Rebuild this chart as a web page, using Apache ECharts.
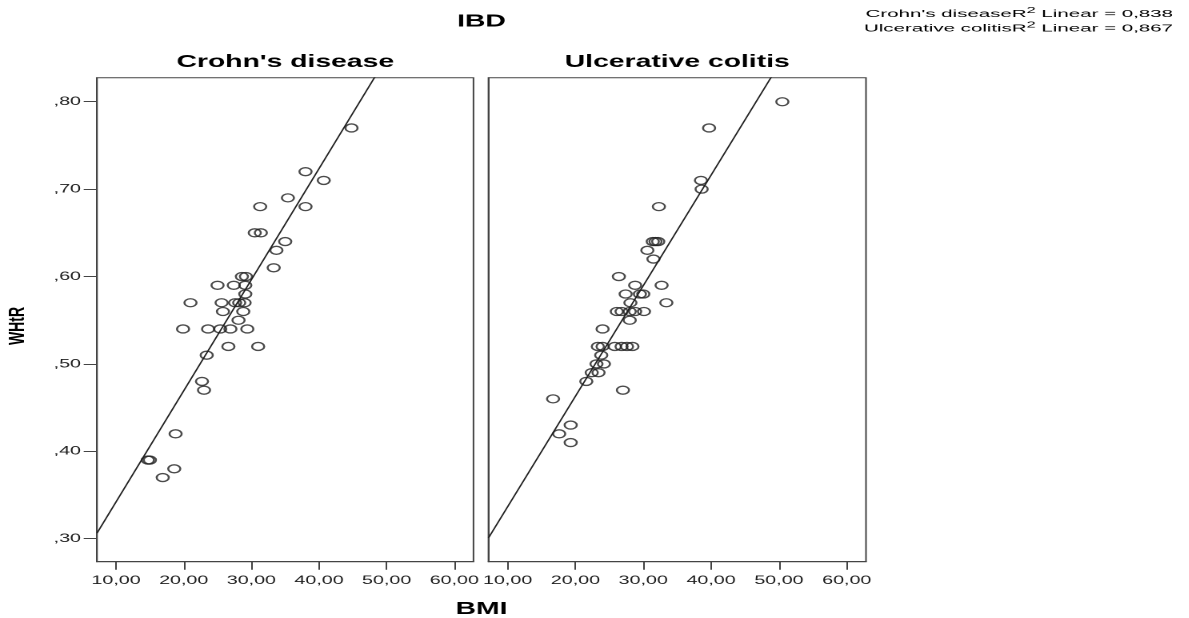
<!DOCTYPE html>
<html>
<head>
<meta charset="utf-8">
<script src="https://cdn.jsdelivr.net/npm/echarts@6/dist/echarts.min.js"></script>
<style>
  html,body{margin:0;padding:0;background:#fff;overflow:hidden;}
  #wrap{position:absolute;left:0;top:0;height:618px;transform-origin:0 0;}
</style>
</head>
<body>
<div id="wrap"></div>
<script>
// ---------------- data ----------------
const panelTitles = ["Crohn's disease", "Ulcerative colitis"];
const r2Values = ["0,838", "0,867"];
const xTicks = [10, 20, 30, 40, 50, 60];
const yTicks = [0.30, 0.40, 0.50, 0.60, 0.70, 0.80];

const cdBMI = [44.8, 38.0, 40.7, 35.4, 31.3, 38.0, 30.5, 31.4, 35.0, 33.7, 33.3,
  28.6, 29.2, 25.0, 27.4, 29.1, 29.1, 21.0, 25.6, 27.6, 28.2, 29.0, 25.8, 28.8, 28.1,
  19.9, 23.6, 25.4, 26.9, 29.4, 26.6, 31.0, 23.4, 22.7, 23.0, 18.8, 14.7, 15.0, 18.6, 16.9];
const cdWHtR = [0.77, 0.72, 0.71, 0.69, 0.68, 0.68, 0.65, 0.65, 0.64, 0.63, 0.61,
  0.60, 0.60, 0.59, 0.59, 0.59, 0.58, 0.57, 0.57, 0.57, 0.57, 0.57, 0.56, 0.56, 0.55,
  0.54, 0.54, 0.54, 0.54, 0.54, 0.52, 0.52, 0.51, 0.48, 0.47, 0.42, 0.39, 0.39, 0.38, 0.37];

const ucBMI = [50.5, 39.7, 38.5, 38.6, 32.3, 31.4, 31.8, 32.2, 30.6, 31.5, 26.4,
  28.8, 32.7, 27.4, 29.5, 30.0, 28.1, 33.4, 26.1, 26.8, 28.0, 28.8, 30.1, 28.0, 24.0,
  23.3, 24.0, 25.8, 26.8, 27.6, 28.4, 23.8, 23.1, 24.2, 22.4, 23.4, 21.6, 27.0, 16.7,
  19.3, 17.6, 19.3];
const ucWHtR = [0.80, 0.77, 0.71, 0.70, 0.68, 0.64, 0.64, 0.64, 0.63, 0.62, 0.60,
  0.59, 0.59, 0.58, 0.58, 0.58, 0.57, 0.57, 0.56, 0.56, 0.56, 0.56, 0.56, 0.55, 0.54,
  0.52, 0.52, 0.52, 0.52, 0.52, 0.52, 0.51, 0.50, 0.50, 0.49, 0.49, 0.48, 0.47, 0.46,
  0.43, 0.42, 0.41];

// linear fit lines: [intercept, slope]
const cdFit = [0.2151, 0.01271];
const ucFit = [0.2101, 0.01265];

// ---------------- layout ----------------
const S = 1.6;                 // horizontal stretch of the original picture
const W = 1189 / S, H = 618;
const wrap = document.getElementById('wrap');
wrap.style.width = W + 'px';
wrap.style.transform = 'scaleX(' + S + ')';

const X_MIN = 7.18, X_MAX = 62.83, Y_MIN = 0.2737, Y_MAX = 0.8274;
const FONT = "'Liberation Sans', Arial, Helvetica, sans-serif";
const ink = '#1e1e1e';
const rx = v => v / S;          // reference-pixel x -> chart x

const gridTop = 77.8, gridH = 483.9;
const grids = [
  { left: rx(97), top: gridTop, width: rx(473.5) - rx(97), height: gridH },
  { left: rx(488.5), top: gridTop, width: rx(866) - rx(488.5), height: gridH }
].map(g => Object.assign(g, { show: true, borderColor: '#444', borderWidth: 1, backgroundColor: 'transparent' }));

const fmtX = v => v.toFixed(2).replace('.', ',');
const fmtY = v => v.toFixed(2).replace('0.', ',');

const xAxes = [0, 1].map(i => ({
  type: 'value', gridIndex: i, min: X_MIN, max: X_MAX,
  axisLine: { show: true, lineStyle: { color: '#444', width: 1 } },
  axisTick: { show: true, inside: false, length: 8, customValues: xTicks, lineStyle: { color: '#444', width: 1 } },
  axisLabel: { show: true, customValues: xTicks, formatter: fmtX, margin: 13,
    color: ink, fontFamily: FONT, fontSize: 12.3 },
  splitLine: { show: false }
}));
const yAxes = [0, 1].map(i => ({
  type: 'value', gridIndex: i, min: Y_MIN, max: Y_MAX,
  axisLine: { show: true, lineStyle: { color: '#444', width: 1 } },
  axisTick: { show: i === 0, inside: false, length: 8.3, customValues: yTicks, lineStyle: { color: '#444', width: 1 } },
  axisLabel: { show: i === 0, customValues: yTicks, formatter: fmtY, margin: 10,
    color: ink, fontFamily: FONT, fontSize: 12.3 },
  splitLine: { show: false }
}));

function pts(xs, ys) { return xs.map((x, i) => [x, ys[i]]); }
function fitLine(f) { return [[X_MIN, f[0] + f[1] * X_MIN], [X_MAX, f[0] + f[1] * X_MAX]]; }

const scatterStyle = {
  type: 'scatter', symbol: 'circle', symbolSize: [7.6, 8],
  itemStyle: { color: 'transparent', borderColor: ink, borderWidth: 1.3 },
  emphasis: { disabled: true }, silent: true, z: 3
};
const lineStyleBase = {
  type: 'line', showSymbol: false, symbol: 'none', clip: true, silent: true,
  lineStyle: { color: '#222', width: 1 }, z: 2
};

const series = [
  Object.assign({ name: panelTitles[0], xAxisIndex: 0, yAxisIndex: 0, data: pts(cdBMI, cdWHtR) }, scatterStyle),
  Object.assign({ name: panelTitles[1], xAxisIndex: 1, yAxisIndex: 1, data: pts(ucBMI, ucWHtR) }, scatterStyle),
  Object.assign({ name: 'fit0', xAxisIndex: 0, yAxisIndex: 0, data: fitLine(cdFit) }, lineStyleBase),
  Object.assign({ name: 'fit1', xAxisIndex: 1, yAxisIndex: 1, data: fitLine(ucFit) }, lineStyleBase)
];

const boldTitle = (text, x, y, size, rot) => ({
  type: 'text', x: x, y: y, rotation: rot || 0, silent: true,
  style: { text: text, fill: '#000', font: 'bold ' + size + 'px ' + FONT, textAlign: 'center', textVerticalAlign: 'middle' }
});

// legend lines: "<name>R" + superscript "2" + " Linear = <r2>", right aligned
const LEG_SC = 1.28, LEG_FS = 10, SUP_FS = 8;
const mctx = document.createElement('canvas').getContext('2d');
function tw(t, fs) { mctx.font = fs + 'px ' + FONT; return mctx.measureText(t).width; }
function legendLine(name, r2, y) {
  const xr = rx(1173);
  const p3 = ' Linear = ' + r2;
  const w3 = tw(p3, LEG_FS) * LEG_SC;
  const w2 = tw('2', SUP_FS) * LEG_SC;
  const mk = (text, x, yy, fs) => ({
    type: 'text', x: x, y: yy, scaleX: LEG_SC, silent: true,
    style: { text: text, fill: '#000', font: fs + 'px ' + FONT, textAlign: 'right', textVerticalAlign: 'middle' }
  });
  return [
    mk(p3, xr, y, LEG_FS),
    mk('2', xr - w3, y - 3, SUP_FS),
    mk(name + 'R', xr - w3 - w2, y, LEG_FS)
  ];
}

const graphic = [
  boldTitle('IBD', rx(481.5), 21.5, 17.7),
  boldTitle(panelTitles[0], rx(285.3), 62, 17.7),
  boldTitle(panelTitles[1], rx(677.3), 62, 17.7),
  boldTitle('BMI', rx(481.5), 609, 17.7),
  boldTitle('WHtR', rx(18), 326, 14, Math.PI / 2)
].concat(legendLine(panelTitles[0], r2Values[0], 14), legendLine(panelTitles[1], r2Values[1], 28.5));

const chart = echarts.init(wrap, null, { renderer: 'canvas', devicePixelRatio: 2, width: W, height: H });
chart.setOption({
  animation: false,
  backgroundColor: '#fff',
  grid: grids,
  xAxis: xAxes,
  yAxis: yAxes,
  series: series,
  graphic: graphic
});
</script>
</body>
</html>
